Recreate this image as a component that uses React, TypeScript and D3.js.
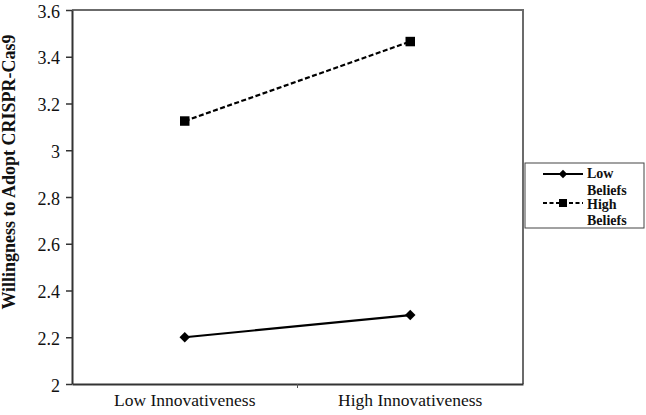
import * as d3 from "d3";
import { useEffect, useRef } from "react";

const categories = ["Low Innovativeness", "High Innovativeness"];
const lowBeliefs = [2.2, 2.295];
const highBeliefs = [3.125, 3.465];
const yTicks = ["2", "2.2", "2.4", "2.6", "2.8", "3", "3.2", "3.4", "3.6"];
const seriesNames = [["Low", "Beliefs"], ["High", "Beliefs"]];

export default function App() {
  const svgRef = useRef<SVGSVGElement | null>(null);

  useEffect(() => {
    const width = 646;
    const height = 415;
    const margin = { top: 10, right: 123, bottom: 31, left: 72 };
    const font = "'Liberation Serif', 'Times New Roman', serif";

    const svg = d3.select(svgRef.current);
    svg.selectAll("*").remove();
    svg.attr("width", width).attr("height", height);

    const x = d3
      .scaleBand()
      .domain(categories)
      .range([margin.left, width - margin.right]);

    const y = d3
      .scaleLinear()
      .domain([2, 3.6])
      .range([height - margin.bottom, margin.top]);

    // plot frame: lighter top/right edges
    svg
      .append("path")
      .attr(
        "d",
        `M${margin.left},${margin.top}H${width - margin.right}V${height - margin.bottom}`
      )
      .attr("fill", "none")
      .attr("stroke", "#6b6b6b")
      .attr("stroke-width", 2);

    const yAxis = svg
      .append("g")
      .attr("transform", `translate(${margin.left},0)`)
      .call(
        d3
          .axisLeft(y)
          .tickValues(yTicks.map(Number))
          .tickFormat((d, i) => yTicks[i])
          .tickSize(6)
          .tickSizeOuter(0)
      );
    yAxis.select(".domain").attr("stroke", "#333").attr("stroke-width", 2);
    yAxis.selectAll(".tick line").attr("stroke", "#333").attr("stroke-width", 1.5);
    yAxis
      .selectAll("text")
      .attr("font-family", font)
      .attr("font-size", 18)
      .attr("fill", "#111")
      .attr("x", -12)
      .attr("dy", "0.4em");

    const xAxis = svg
      .append("g")
      .attr("transform", `translate(0,${height - margin.bottom})`)
      .call(d3.axisBottom(x).tickSize(0).tickSizeOuter(0));
    xAxis.select(".domain").attr("stroke", "#333").attr("stroke-width", 2);
    xAxis
      .selectAll("text")
      .attr("font-family", font)
      .attr("font-size", 17.5)
      .attr("fill", "#111")
      .attr("y", 10);

    // divider tick between the two categories
    svg
      .append("line")
      .attr("x1", x(categories[1])!)
      .attr("x2", x(categories[1])!)
      .attr("y1", height - margin.bottom)
      .attr("y2", height - margin.bottom + 4)
      .attr("stroke", "#555")
      .attr("stroke-width", 1);

    svg
      .append("text")
      .attr("transform", "translate(15,172) rotate(-90)")
      .attr("text-anchor", "middle")
      .attr("font-family", font)
      .attr("font-size", 18)
      .attr("font-weight", "bold")
      .attr("fill", "#111")
      .text("Willingness to Adopt CRISPR-Cas9");

    const cx = (i: number) => x(categories[i])! + x.bandwidth() / 2;
    const line = d3
      .line<number>()
      .x((d, i) => cx(i))
      .y((d) => y(d));

    svg
      .append("path")
      .datum(lowBeliefs)
      .attr("d", line)
      .attr("fill", "none")
      .attr("stroke", "#000")
      .attr("stroke-width", 2.2);

    svg
      .append("path")
      .datum(highBeliefs)
      .attr("d", line)
      .attr("fill", "none")
      .attr("stroke", "#000")
      .attr("stroke-width", 2.2)
      .attr("stroke-dasharray", "5,2.5");

    const diamond = d3.symbol().type(d3.symbolDiamond2).size(70);
    const square = d3.symbol().type(d3.symbolSquare).size(90);

    svg
      .selectAll(".lowPt")
      .data(lowBeliefs)
      .join("path")
      .attr("d", diamond)
      .attr("transform", (d, i) => `translate(${cx(i)},${y(d)})`)
      .attr("fill", "#000");

    svg
      .selectAll(".highPt")
      .data(highBeliefs)
      .join("path")
      .attr("d", square)
      .attr("transform", (d, i) => `translate(${cx(i)},${y(d)})`)
      .attr("fill", "#000");

    // legend
    const lg = svg.append("g").attr("transform", "translate(525,163)");
    lg.append("rect")
      .attr("width", 119)
      .attr("height", 65)
      .attr("fill", "#fff")
      .attr("stroke", "#444")
      .attr("stroke-width", 1);

    const rows = [
      { y: 11, dash: null as string | null, sym: d3.symbol().type(d3.symbolDiamond2).size(45) },
      { y: 40, dash: "4,2.5", sym: d3.symbol().type(d3.symbolSquare).size(65) },
    ];
    rows.forEach((r, i) => {
      lg.append("line")
        .attr("x1", 18)
        .attr("x2", 58)
        .attr("y1", r.y)
        .attr("y2", r.y)
        .attr("stroke", "#000")
        .attr("stroke-width", 2)
        .attr("stroke-dasharray", r.dash);
      lg.append("path")
        .attr("d", r.sym())
        .attr("transform", `translate(38,${r.y})`)
        .attr("fill", "#000");
      seriesNames[i].forEach((t, j) => {
        lg.append("text")
          .attr("x", 62)
          .attr("y", r.y + 4 + i * 1.5 + j * 16.5)
          .attr("font-family", font)
          .attr("font-size", 14)
          .attr("font-weight", "bold")
          .attr("fill", "#111")
          .text(t);
      });
    });
  }, []);

  return (
    <div style={{ position: "absolute", left: 0, top: 0 }}>
      <svg ref={svgRef} style={{ display: "block" }}></svg>
    </div>
  );
}
